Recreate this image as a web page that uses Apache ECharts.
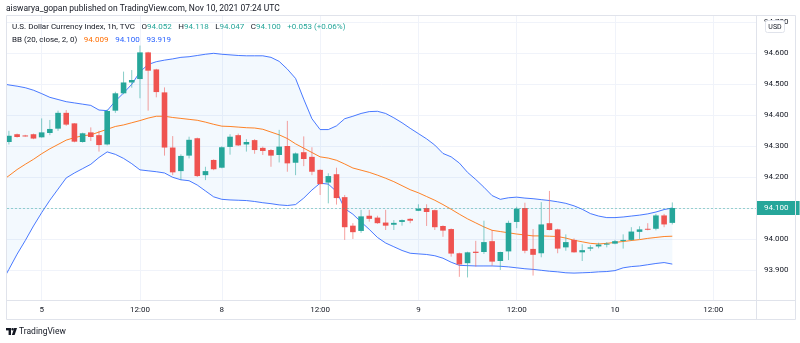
<!DOCTYPE html>
<html>
<head>
<meta charset="utf-8">
<script src="https://cdn.jsdelivr.net/npm/echarts@6/dist/echarts.min.js"></script>
<style>
  html, body { margin: 0; padding: 0; background: #ffffff; }
  #chart { width: 800px; height: 343px; }
</style>
</head>
<body>
<div id="chart"></div>
<script>
// DXY (TVC) hourly candles, Nov 5 – Nov 10 2021; bar index 0 = Nov 4 20:00
const opens = [94.313,94.338,94.334,94.338,94.328,94.342,94.356,94.407,94.373,94.313,
  94.344,94.335,94.305,94.414,94.470,94.505,94.516,94.602,94.547,94.473,
  94.295,94.219,94.269,94.325,94.206,94.255,94.230,94.297,94.335,94.305,
  94.319,94.294,94.287,94.271,94.300,94.246,94.280,94.265,94.223,94.182,
  94.209,94.135,94.043,94.026,94.075,94.069,94.053,94.046,94.055,94.065,
  94.091,94.100,94.093,94.042,94.032,93.954,93.922,93.959,93.958,93.993,
  93.929,93.960,94.055,94.100,93.968,93.954,94.051,94.031,93.973,93.997,
  93.957,93.969,93.976,93.983,93.985,93.996,93.997,94.023,94.033,94.033,
  94.076,94.052];
const closes = [94.333,94.329,94.332,94.324,94.344,94.355,94.407,94.369,94.314,94.341,
  94.329,94.303,94.413,94.470,94.505,94.513,94.602,94.543,94.474,94.295,
  94.215,94.268,94.320,94.203,94.219,94.225,94.296,94.330,94.302,94.313,
  94.287,94.284,94.269,94.298,94.244,94.276,94.258,94.217,94.177,94.203,
  94.132,94.038,94.022,94.073,94.065,94.051,94.043,94.052,94.061,94.059,
  94.098,94.087,94.038,94.027,93.953,93.918,93.957,93.955,93.990,93.927,
  93.958,94.052,94.098,93.962,93.949,94.047,94.029,93.969,93.990,93.957,
  93.964,93.973,93.982,93.985,93.993,93.997,94.024,94.031,94.030,94.076,
  94.047,94.100];
const lows = [94.305,94.327,94.330,94.322,94.327,94.335,94.349,94.365,94.312,94.311,
  94.316,94.282,94.302,94.407,94.467,94.488,94.454,94.414,94.457,94.269,
  94.206,94.190,94.260,94.200,94.190,94.222,94.228,94.272,94.300,94.282,
  94.275,94.271,94.233,94.247,94.217,94.206,94.235,94.206,94.142,94.115,
  94.111,93.997,94.000,94.020,94.056,94.049,94.029,94.029,94.043,94.051,
  94.090,94.042,94.029,94.007,93.943,93.878,93.876,93.911,93.952,93.914,
  93.900,93.932,94.035,93.954,93.882,93.941,94.028,93.954,93.962,93.956,
  93.929,93.961,93.970,93.973,93.983,93.969,93.994,94.000,94.028,94.028,
  94.038,94.047];
const highs = [94.349,94.340,94.336,94.340,94.389,94.384,94.414,94.416,94.374,94.343,
  94.360,94.349,94.418,94.475,94.540,94.545,94.624,94.604,94.549,94.489,
  94.332,94.273,94.330,94.327,94.233,94.257,94.299,94.338,94.340,94.322,
  94.322,94.298,94.290,94.352,94.381,94.279,94.331,94.296,94.225,94.212,
  94.230,94.142,94.051,94.094,94.094,94.075,94.094,94.061,94.063,94.067,
  94.112,94.112,94.095,94.044,94.034,93.956,93.959,93.994,94.059,94.029,
  93.959,94.059,94.104,94.117,94.032,94.119,94.155,94.033,94.015,94.002,
  93.983,93.980,93.988,93.990,93.997,94.015,94.038,94.041,94.051,94.081,
  94.081,94.118];

// Bollinger Bands (20, close, 2, 0); first value belongs to bar index -1
const bbStart = -1;
const bbUpper = [94.502,94.497,94.493,94.488,94.480,94.469,94.457,94.450,94.443,94.439,94.435,
  94.431,94.416,94.414,94.445,94.471,94.499,94.539,94.563,94.572,94.577,
  94.581,94.586,94.588,94.592,94.596,94.599,94.596,94.594,94.592,94.591,
  94.591,94.591,94.586,94.573,94.548,94.518,94.451,94.388,94.353,94.353,
  94.365,94.388,94.396,94.405,94.411,94.412,94.405,94.391,94.375,94.357,
  94.340,94.323,94.303,94.276,94.265,94.245,94.215,94.192,94.167,94.140,
  94.128,94.133,94.135,94.132,94.130,94.127,94.124,94.120,94.115,94.107,
  94.096,94.082,94.074,94.069,94.069,94.071,94.074,94.077,94.081,94.087,
  94.095,94.100];
const bbLower = [93.854,93.902,93.951,93.995,94.042,94.085,94.125,94.161,94.197,94.213,94.227,
  94.241,94.263,94.281,94.273,94.260,94.243,94.223,94.220,94.217,94.213,
  94.199,94.191,94.188,94.174,94.155,94.136,94.128,94.126,94.125,94.124,
  94.121,94.117,94.114,94.110,94.108,94.111,94.132,94.158,94.180,94.177,
  94.153,94.098,94.080,94.055,94.031,94.005,93.987,93.975,93.963,93.954,
  93.952,93.950,93.946,93.938,93.925,93.915,93.914,93.913,93.913,93.913,
  93.912,93.910,93.907,93.904,93.902,93.899,93.896,93.894,93.891,93.890,
  93.891,93.892,93.894,93.895,93.898,93.907,93.911,93.913,93.917,93.921,
  93.924,93.919];
const bbBasis = [94.185,94.204,94.224,94.241,94.257,94.275,94.291,94.305,94.319,94.327,94.333,
  94.336,94.345,94.354,94.363,94.368,94.375,94.382,94.390,94.396,94.396,
  94.392,94.389,94.386,94.383,94.377,94.370,94.364,94.363,94.361,94.359,
  94.358,94.354,94.345,94.336,94.324,94.307,94.293,94.279,94.265,94.261,
  94.254,94.242,94.229,94.222,94.215,94.206,94.196,94.185,94.172,94.159,
  94.149,94.137,94.125,94.111,94.096,94.080,94.065,94.052,94.039,94.028,
  94.024,94.020,94.016,94.013,94.010,94.010,94.009,94.008,94.003,93.996,
  93.991,93.986,93.984,93.986,93.989,93.992,93.995,93.998,94.002,94.005,
  94.008,94.009];

// Time scale labels (bar index → label) and price scale ticks
const timeTickIndex = [4, 16, 26, 38, 50, 62, 74, 86];
const timeTickLabels = ['5', '12:00', '8', '12:00', '9', '12:00', '10', '12:00'];
const priceTicks = [93.9, 94.0, 94.1, 94.2, 94.3, 94.4, 94.5, 94.6, 94.7];

const UP = '#26a69a', DOWN = '#ef5350';
const UP_WICK = 'rgba(38,166,154,0.55)', DOWN_WICK = 'rgba(239,83,80,0.55)';
const BAND_BLUE = '#2962ff', BASIS_ORANGE = '#ff6d00';
const TEXT = '#131722', FRAME = '#e0e3eb', GRID = '#f0f3fa';
const FONT = 'Roboto, "Noto Sans", sans-serif';

const last = closes.length - 1;
const lastClose = closes[last];
const change = closes[last] - closes[last - 1];
const changePct = change / closes[last - 1] * 100;

const candleData = opens.map((o, i) => [i, o, closes[i], lows[i], highs[i]]);
const toLine = arr => arr.map((v, k) => [k + bbStart, v]);

const chart = echarts.init(document.getElementById('chart'), null, { renderer: 'canvas' });

chart.setOption({
  animation: false,
  backgroundColor: '#ffffff',
  grid: { left: 7, right: 44, top: 16, bottom: 43, containLabel: false },
  xAxis: {
    type: 'value',
    min: -0.232,
    max: 91.22,
    axisLine: { show: false },
    axisTick: { show: false, customValues: timeTickIndex },
    axisLabel: {
      customValues: timeTickIndex,
      formatter: v => timeTickLabels[timeTickIndex.indexOf(v)] || '',
      color: TEXT, fontFamily: FONT, fontSize: 8, margin: 6
    },
    splitLine: { show: true, lineStyle: { color: GRID, width: 1 } }
  },
  yAxis: {
    type: 'value',
    position: 'right',
    min: 93.8032,
    max: 94.7194,
    scale: true,
    axisLine: { show: false },
    axisTick: { show: false, customValues: priceTicks },
    axisLabel: {
      customValues: priceTicks,
      formatter: v => v.toFixed(3),
      color: TEXT, fontFamily: FONT, fontSize: 8, margin: 8, align: 'left'
    },
    splitLine: { show: true, lineStyle: { color: GRID, width: 1 } }
  },
  series: [
    {
      // band background between upper and lower
      type: 'custom',
      clip: true,
      silent: true,
      z: 1,
      data: [[0, bbBasis[0]]],
      renderItem: (params, api) => {
        const pts = [];
        bbUpper.forEach((v, k) => pts.push(api.coord([k + bbStart, v])));
        for (let k = bbLower.length - 1; k >= 0; k--) pts.push(api.coord([k + bbStart, bbLower[k]]));
        return { type: 'polygon', shape: { points: pts }, style: { fill: 'rgba(33,150,243,0.055)' } };
      }
    },
    {
      name: 'Upper', type: 'line', data: toLine(bbUpper), z: 3, clip: true,
      symbol: 'none', lineStyle: { color: BAND_BLUE, width: 1, opacity: 0.85 }
    },
    {
      name: 'Lower', type: 'line', data: toLine(bbLower), z: 3, clip: true,
      symbol: 'none', lineStyle: { color: BAND_BLUE, width: 1, opacity: 0.85 }
    },
    {
      name: 'Basis', type: 'line', data: toLine(bbBasis), z: 3, clip: true,
      symbol: 'none', lineStyle: { color: BASIS_ORANGE, width: 1, opacity: 0.85 },
      markLine: {
        silent: true,
        symbol: 'none',
        z: 10,
        data: [{ yAxis: lastClose }],
        lineStyle: { color: 'rgba(38,166,154,0.45)', type: [2, 2], width: 1 },
        label: {
          show: true, position: 'end', distance: 1,
          formatter: lastClose.toFixed(3),
          backgroundColor: UP, color: '#ffffff', opacity: 1,
          fontFamily: FONT, fontSize: 8,
          padding: [3, 11, 3, 7]
        }
      }
    },
    {
      name: 'DXY', type: 'custom', clip: true, z: 5,
      data: candleData,
      encode: { x: 0, y: [1, 2, 3, 4] },
      renderItem: (params, api) => {
        const i = api.value(0), o = api.value(1), c = api.value(2), l = api.value(3), h = api.value(4);
        const up = c >= o;
        const pO = api.coord([i, o]), pC = api.coord([i, c]);
        const pL = api.coord([i, l]), pH = api.coord([i, h]);
        const cx = pO[0];
        const bw = 5.6;
        const top = Math.min(pO[1], pC[1]);
        const hgt = Math.max(Math.abs(pO[1] - pC[1]), 1);
        return {
          type: 'group',
          children: [
            { type: 'line', shape: { x1: cx, y1: pH[1], x2: cx, y2: pL[1] },
              style: { stroke: up ? UP_WICK : DOWN_WICK, lineWidth: 1 } },
            { type: 'rect', shape: { x: cx - bw / 2, y: top, width: bw, height: hgt },
              style: { fill: up ? UP : DOWN } }
          ]
        };
      }
    }
  ],
  graphic: [
    // pane and scale frames
    { type: 'rect', silent: true, z: 50,
      shape: { x: 6.5, y: 15.5, width: 789, height: 304 },
      style: { fill: null, stroke: FRAME, lineWidth: 1 } },
    { type: 'line', silent: true, z: 50,
      shape: { x1: 6.5, y1: 300.5, x2: 795.5, y2: 300.5 }, style: { stroke: FRAME, lineWidth: 1 } },
    { type: 'line', silent: true, z: 50,
      shape: { x1: 756.5, y1: 15.5, x2: 756.5, y2: 319.5 }, style: { stroke: FRAME, lineWidth: 1 } },
    // currency badge on the price scale
    { type: 'rect', silent: true, z: 60,
      shape: { x: 765.5, y: 20.5, width: 19, height: 12, r: 2 },
      style: { fill: '#ffffff', stroke: FRAME, lineWidth: 1 } },
    { type: 'text', silent: true, z: 61, x: 775, y: 27,
      style: { text: 'USD', fill: TEXT, font: '7px ' + FONT, align: 'center', verticalAlign: 'middle' } },
    // publication line
    { type: 'text', silent: true, z: 60, x: 6, y: 9,
      style: { text: 'aiswarya_gopan published on TradingView.com, Nov 10, 2021 07:24 UTC',
        fill: TEXT, font: '8.5px ' + FONT, verticalAlign: 'middle' } },
    // symbol legend
    { type: 'text', silent: true, z: 60, x: 12, y: 27,
      style: {
        text: '{t|U.S. Dollar Currency Index, 1h, TVC}  {k|O}{v|' + opens[last].toFixed(3) + '}  {k|H}{v|' +
          highs[last].toFixed(3) + '}  {k|L}{v|' + lows[last].toFixed(3) + '}  {k|C}{v|' +
          closes[last].toFixed(3) + '}  {v|' + (change >= 0 ? '+' : '') + change.toFixed(3) + ' (' +
          (changePct >= 0 ? '+' : '') + changePct.toFixed(2) + '%)}',
        verticalAlign: 'middle',
        rich: {
          t: { fill: TEXT, font: '8px ' + FONT },
          k: { fill: TEXT, font: '8px ' + FONT },
          v: { fill: UP, font: '8px ' + FONT }
        }
      } },
    // indicator legend
    { type: 'text', silent: true, z: 60, x: 12, y: 40,
      style: {
        text: '{t|BB (20, close, 2, 0)}  {o|' + bbBasis[bbBasis.length - 1].toFixed(3) + '}  {b|' +
          bbUpper[bbUpper.length - 1].toFixed(3) + '}  {b|' + bbLower[bbLower.length - 1].toFixed(3) + '}',
        verticalAlign: 'middle',
        rich: {
          t: { fill: TEXT, font: '8px ' + FONT },
          o: { fill: BASIS_ORANGE, font: '8px ' + FONT },
          b: { fill: BAND_BLUE, font: '8px ' + FONT }
        }
      } },
    // brand mark
    { type: 'rect', silent: true, z: 60, shape: { x: 6, y: 328, width: 5, height: 2.4 }, style: { fill: TEXT } },
    { type: 'rect', silent: true, z: 60, shape: { x: 8.6, y: 328, width: 2.4, height: 7 }, style: { fill: TEXT } },
    { type: 'circle', silent: true, z: 60, shape: { cx: 12.6, cy: 329.3, r: 1.3 }, style: { fill: TEXT } },
    { type: 'polygon', silent: true, z: 60,
      shape: { points: [[14.2, 328], [17, 328], [14.6, 335], [11.9, 335]] }, style: { fill: TEXT } },
    { type: 'text', silent: true, z: 60, x: 19, y: 331.5,
      style: { text: 'TradingView', fill: TEXT, font: '8.5px ' + FONT, verticalAlign: 'middle' } }
  ]
});
</script>
</body>
</html>
